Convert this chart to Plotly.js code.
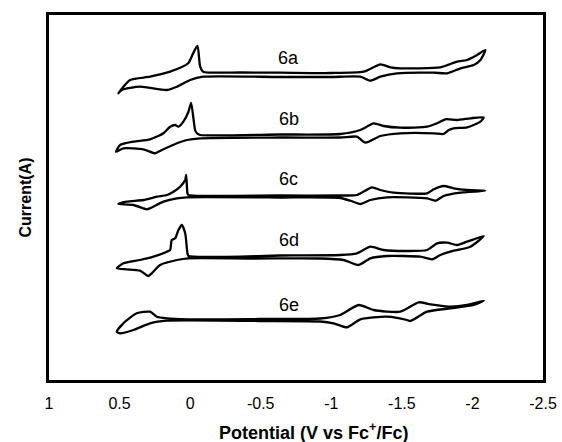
<!DOCTYPE html>
<html>
<head>
<meta charset="utf-8">
<script src="https://cdn.plot.ly/plotly-3.0.1.min.js"></script>
<style>html,body{margin:0;padding:0;background:#fff;}#chart{width:562px;height:442px;}</style>
</head>
<body>
<div id="chart"></div>
<script>
// Potential (V vs Fc+/Fc) and current (arbitrary, vertically offset) for each CV loop
const pot6a = [0.509,0.426,0.284,0.142,0.014,-0.021,-0.052,-0.071,-0.092,-0.355,-0.638,-0.993,-1.229,-1.348,-1.418,-1.489,-1.773,-1.891,-1.962,-2.033,-2.092,-2.057,-2.009,-1.915,-1.821,-1.726,-1.466,-1.348,-1.277,-1.206,-0.993,-0.638,-0.092,0.000,0.094,0.165,0.355,0.484,0.509];
const cur6a = [286.7,300,303.3,308.3,316.7,326.7,334,313.3,308.3,307.5,307.3,307,308.3,315.7,312.7,311.7,312.7,318.3,320,325,330,320,315,311.7,306.7,307.3,306.7,303.3,299.3,303.3,303,303,303.3,300,293.3,290,293.3,290,286.7];

const pot6b = [0.525,0.496,0.402,0.284,0.189,0.142,0.106,0.083,0.048,0.012,-0.007,-0.035,-0.048,-0.071,-0.638,-1.064,-1.206,-1.300,-1.371,-1.489,-1.679,-1.750,-1.809,-1.891,-1.986,-2.080,-2.057,-1.962,-1.867,-1.832,-1.796,-1.726,-1.489,-1.348,-1.241,-1.182,-1.064,-0.638,-0.071,0.023,0.094,0.225,0.248,0.331,0.473,0.525];
const cur6b = [228.3,235,238.3,240.7,246.7,253.3,255,253.3,258.3,268.3,277,250,246.7,245,245.5,246,250,256.7,254,252.3,253.3,256.7,260.7,260,261.7,262.7,258.3,252.7,251.7,250,246,246.7,246.7,244,237.3,243.3,242.5,242.5,241.7,240,236.7,228.3,226.7,230.7,231.7,228.3];

const pot6c = [0.509,0.449,0.331,0.236,0.165,0.118,0.071,0.035,0.028,0.019,0.012,-0.638,-1.064,-1.182,-1.289,-1.348,-1.442,-1.679,-1.726,-1.796,-1.867,-1.962,-2.092,-2.009,-1.915,-1.796,-1.738,-1.679,-1.395,-1.277,-1.206,-1.135,-1.064,-0.638,0.023,0.094,0.189,0.284,0.307,0.402,0.509];
const cur6c = [176,178.3,180,183.3,185,188.3,193.3,200,205,186.7,185,184.5,184.5,185,192.7,190,187.3,186.7,190.7,194,191.7,190,189.3,188.3,187.3,184,179.3,181.7,182.7,180,176,179.3,182,182.5,182.7,181.7,178.3,171.7,170.7,175,176];

const pot6d = [0.520,0.473,0.355,0.260,0.165,0.142,0.130,0.106,0.083,0.059,0.035,0.019,0.012,-0.638,-1.064,-1.182,-1.277,-1.371,-1.537,-1.679,-1.750,-1.821,-1.891,-1.962,-2.080,-1.986,-1.867,-1.773,-1.714,-1.631,-1.395,-1.277,-1.194,-1.087,-0.922,-0.426,0.012,0.094,0.213,0.272,0.296,0.355,0.449,0.520];
const cur6d = [111.7,116.7,120,123.3,128.3,130,140,141.7,150,155,146.7,126.7,124,124.5,125,126.7,133.3,130,129,130,136.7,137.3,135,138.3,144,133.3,129.3,125,120.7,123.3,124,121.7,115,120,121.5,121.5,121.7,120,115,106.7,104,109.3,110.7,111.7];

const pot6e = [0.520,0.473,0.378,0.284,0.236,0.165,0.023,-0.496,-0.922,-1.064,-1.194,-1.300,-1.489,-1.619,-1.702,-1.844,-1.962,-2.080,-2.009,-1.844,-1.679,-1.560,-1.537,-1.395,-1.206,-1.111,-1.016,-0.922,-0.496,0.165,0.284,0.402,0.496,0.520];
const cur6e = [48.3,56.7,66.7,68.3,63.3,61.7,60.7,61,61.5,65,75,70,68.3,77.7,75.7,73.3,75,79.3,75,71.7,68.3,59,60,63.3,60.7,52.7,56.7,58.5,59,59.3,56.7,50,46.7,48.3];

const seriesNames = ['6a','6b','6c','6d','6e'];
const labelPot = [-0.70,-0.70,-0.70,-0.70,-0.70];
const labelCur = [322.5,261.5,201.5,140,75.5];

const tickVals = [1,0.5,0,-0.5,-1,-1.5,-2,-2.5];
const tickText = ['1','0.5','0','-0.5','-1','-1.5','-2','-2.5'];

const pots = [pot6a,pot6b,pot6c,pot6d,pot6e];
const curs = [cur6a,cur6b,cur6c,cur6d,cur6e];

const FONT = 'Liberation Sans, Arial, sans-serif';

const traces = pots.map((p,i)=>({
  x: p, y: curs[i], name: seriesNames[i], type:'scatter', mode:'lines',
  line:{color:'#000', width:2.3, shape:'spline', smoothing:0.6},
  hoverinfo:'skip', showlegend:false
}));

const annotations = seriesNames.map((n,i)=>({
  x: labelPot[i], y: labelCur[i], xref:'x', yref:'y', text:n, showarrow:false,
  font:{family:FONT, size:18, color:'#000'}
}));
annotations.push({
  x:0.536, y:-0.142, xref:'paper', yref:'paper', xanchor:'center', yanchor:'middle',
  text:'<b>Potential (V vs Fc<sup>+</sup>/Fc)</b>', showarrow:false,
  font:{family:FONT, size:18, color:'#000'}
});

const layout = {
  width:562, height:442,
  margin:{l:49, r:19, t:15, b:62},
  paper_bgcolor:'#fff', plot_bgcolor:'#fff',
  showlegend:false,
  xaxis:{
    range:[1,-2.5], autorange:false,
    tickmode:'array', tickvals:tickVals, ticktext:tickText,
    ticks:'outside', ticklen:7, tickcolor:'rgba(0,0,0,0)',
    showgrid:false, zeroline:false,
    showline:true, mirror:true, linecolor:'#000', linewidth:3,
    tickfont:{family:FONT, size:16, color:'#000'}
  },
  yaxis:{
    range:[0,365], autorange:false,
    showticklabels:false, ticks:'',
    showgrid:false, zeroline:false,
    showline:true, mirror:true, linecolor:'#000', linewidth:3,
    title:{text:'<b>Current(A)</b>', standoff:11,
      font:{family:FONT, size:16, color:'#000'}}
  },
  annotations: annotations
};

Plotly.newPlot('chart', traces, layout, {staticPlot:true, displayModeBar:false});
</script>
</body>
</html>
